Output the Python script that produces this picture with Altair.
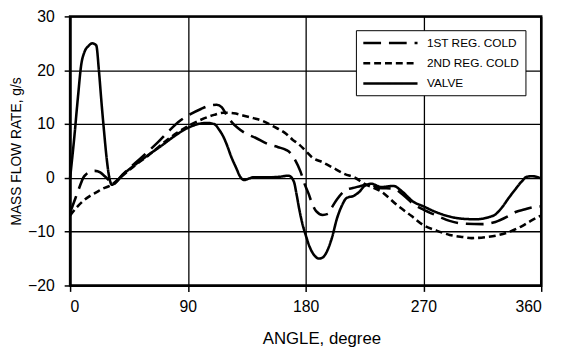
import altair as alt
import pandas as pd

series_names = ["1ST REG. COLD", "2ND REG. COLD", "VALVE"]

reg1_angle = [0, 3, 6, 8, 10, 12, 15, 19, 23, 26, 29, 32, 40, 50, 60, 67, 75, 84, 91, 100, 108, 112,
              116, 120, 124, 128, 133, 142, 151, 159, 165, 168, 172, 176, 179, 182, 185, 188, 193, 197,
              200, 204, 208, 212, 216, 222, 229, 236, 247, 255, 262, 270, 280, 290, 300, 315, 325, 335,
              341, 347, 353, 360]
reg1_value = [-6.5, -4.5, -2.5, -1.2, 0.0, 0.6, 1.1, 1.3, 1.0, 0.4, -0.3, -1.3, 0.6, 2.8, 5.0, 6.6, 8.6,
              10.6, 11.7, 12.8, 13.5, 13.6, 13.1, 11.5, 10.2, 9.3, 8.4, 7.4, 6.3, 5.7, 5.2, 4.7, 3.3, 1.2,
              -1.0, -2.8, -4.8, -6.2, -6.9, -6.7, -5.5, -4.0, -2.8, -2.1, -1.9, -1.5, -1.1, -1.9, -2.0,
              -3.3, -4.8, -5.9, -7.0, -8.0, -8.5, -8.6, -8.2, -7.1, -6.3, -5.9, -5.5, -5.3]

reg2_angle = [0, 5, 10, 15, 20, 25, 31, 40, 50, 60, 67, 75, 82, 90, 100, 110, 117, 125, 132, 140, 147,
              155, 165, 170, 175, 180, 185, 193, 200, 210, 217, 225, 238, 250, 261, 270, 280, 290, 300,
              307, 318, 328, 337, 345, 352, 360]
reg2_value = [-7.0, -5.5, -4.3, -3.4, -2.7, -2.0, -1.4, 0.4, 2.4, 4.2, 5.6, 7.2, 8.4, 9.6, 10.8, 11.7,
              12.1, 12.0, 11.6, 11.1, 10.6, 9.6, 8.2, 7.1, 6.2, 5.0, 3.8, 2.9, 2.0, 0.7, 0.1, -1.1, -2.6,
              -5.1, -7.1, -8.8, -9.8, -10.6, -11.0, -11.2, -11.0, -10.6, -9.9, -9.0, -8.0, -7.0]

valve_angle = [0, 3, 6, 8.5, 11, 14, 17, 20, 22, 24, 26, 28, 30, 32, 35, 40, 50, 60, 70, 80, 90, 100,
               105, 110, 114, 117, 120, 123, 127, 130, 133, 137, 140, 150, 160, 167, 171, 173, 175, 178,
               180, 183, 187, 190, 193, 196, 200, 204, 208, 211, 217, 221, 225, 230, 238, 247, 254, 262,
               270, 280, 290, 300, 310, 320, 325, 330, 335, 340, 345, 349, 353, 360]
valve_value = [0.0, 7.0, 15.0, 21.0, 23.4, 24.5, 25.0, 24.6, 20.0, 14.0, 8.5, 3.5, 0.0, -1.3, -0.8, 0.5,
               2.5, 4.3, 6.0, 7.8, 9.3, 10.1, 10.2, 10.0, 8.9, 7.7, 6.0, 4.0, 1.8, 0.2, -0.4, -0.1, 0.1,
               0.1, 0.2, 0.4, -0.7, -3.0, -5.7, -9.0, -10.6, -12.8, -14.5, -15.0, -14.8, -13.8, -11.2,
               -7.5, -5.0, -3.8, -3.3, -2.6, -1.5, -1.1, -1.7, -1.5, -2.6, -4.4, -5.3, -6.4, -7.2, -7.6,
               -7.7, -7.3, -6.8, -5.5, -3.8, -2.2, -0.7, 0.2, 0.3, -0.1]

x_ticks = [0, 90, 180, 270, 360]
y_ticks = [-20, -10, 0, 10, 20, 30]

frames = []
for name, ang, val in [(series_names[0], reg1_angle, reg1_value),
                       (series_names[1], reg2_angle, reg2_value),
                       (series_names[2], valve_angle, valve_value)]:
    frames.append(pd.DataFrame({"angle": ang, "value": val, "series": name}))
df = pd.concat(frames, ignore_index=True)

FONT = "Liberation Sans"

chart = alt.Chart(df).mark_line(
    color="black", strokeWidth=2.6, interpolate="monotone"
).encode(
    x=alt.X("angle:Q",
            scale=alt.Scale(domain=[0, 360], nice=False, zero=False),
            axis=alt.Axis(values=x_ticks, title="ANGLE, degree", grid=True,
                          labelFontSize=16, titleFontSize=17, labelPadding=7,
                          titlePadding=17, titleX=255, titleFontWeight="normal")),
    y=alt.Y("value:Q",
            scale=alt.Scale(domain=[-20, 30], nice=False, zero=False),
            axis=alt.Axis(values=y_ticks, title="MASS FLOW RATE, g/s", grid=True,
                          labelFontSize=16, titleFontSize=14, labelPadding=10,
                          titlePadding=4, titleFontWeight="normal")),
    strokeDash=alt.StrokeDash(
        "series:N",
        scale=alt.Scale(domain=series_names, range=[[18, 8], [7, 4], [1, 0]]),
        legend=alt.Legend(title=None, orient="none", legendX=290, legendY=14,
                          symbolType="M-1,0H9", symbolSize=121, symbolStrokeWidth=2.6,
                          symbolStrokeColor="black", labelFontSize=12, labelFont=FONT,
                          labelColor="black", padding=6, strokeColor="black",
                          fillColor="white", rowPadding=7.5, labelOffset=52),
    ),
    detail="series:N",
    order=alt.Order("angle:Q"),
).properties(
    width=478, height=273,
    autosize=alt.AutoSizeParams(type="none"),
    padding={"left": 63, "top": 6, "right": 15, "bottom": 67},
).configure_view(
    stroke="black", strokeWidth=2.5
).configure_axis(
    labelFont=FONT, titleFont=FONT, labelColor="black", titleColor="black",
    domainColor="black", domainWidth=2, tickColor="black", tickWidth=1.5, tickSize=6,
    gridColor="black", gridWidth=1.3, gridOpacity=1
)

chart.save("out.html", embed_options={"renderer": "svg", "actions": False})
